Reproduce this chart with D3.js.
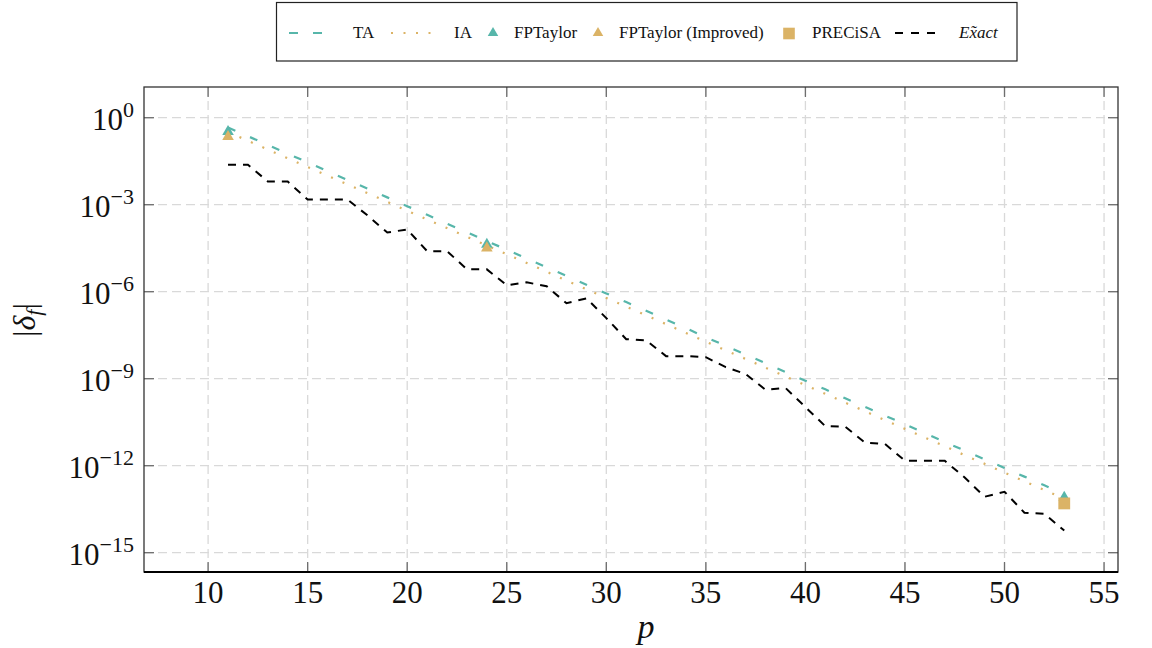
<!DOCTYPE html>
<meta charset="utf-8">
<style>
  body { margin: 0; background: #fff; }
  text { font-family: "Liberation Serif", "Times New Roman", serif; fill: #111; }
</style>
<svg width="1152" height="648"></svg>
<script src="https://d3js.org/d3.v7.min.js"></script>
<script>

  // precision p (x axis)
  var pValues = [11, 12, 13, 14, 15, 16, 17, 18, 19, 20, 21, 22, 23, 24, 25, 26, 27, 28, 29, 30, 31, 32,
                 33, 34, 35, 36, 37, 38, 39, 40, 41, 42, 43, 44, 45, 46, 47, 48, 49, 50, 51, 52, 53];

  // |delta_f|
  var taValues = [4.6e-1, 2.3e-1, 1.15e-1, 5.7e-2, 2.9e-2, 1.43e-2, 7.1e-3, 3.6e-3, 1.79e-3, 8.9e-4, 4.5e-4,
                  2.2e-4, 1.12e-4, 5.6e-5, 2.8e-5, 1.4e-5, 7.0e-6, 3.5e-6, 1.75e-6, 8.7e-7, 4.4e-7, 2.2e-7,
                  1.09e-7, 5.5e-8, 2.7e-8, 1.36e-8, 6.8e-9, 3.4e-9, 1.7e-9, 8.5e-10, 4.3e-10, 2.1e-10,
                  1.06e-10, 5.3e-11, 2.7e-11, 1.33e-11, 6.6e-12, 3.3e-12, 1.66e-12, 8.3e-13, 4.2e-13,
                  2.1e-13, 1.04e-13];

  var iaValues = [3.2e-1, 1.6e-1, 8.0e-2, 4.0e-2, 2.0e-2, 1.0e-2, 5.0e-3, 2.5e-3, 1.25e-3, 6.2e-4, 3.1e-4,
                  1.56e-4, 7.8e-5, 3.9e-5, 1.95e-5, 9.8e-6, 4.9e-6, 2.4e-6, 1.22e-6, 6.1e-7, 3.05e-7,
                  1.53e-7, 7.6e-8, 3.8e-8, 1.9e-8, 9.5e-9, 4.8e-9, 2.4e-9, 1.19e-9, 6.0e-10, 3.0e-10,
                  1.49e-10, 7.5e-11, 3.7e-11, 1.86e-11, 9.3e-12, 4.7e-12, 2.3e-12, 1.16e-12, 5.8e-13,
                  2.9e-13, 1.45e-13, 7.3e-14];

  var exactValues = [2.4e-2, 2.4e-2, 6.3e-3, 6.3e-3, 1.5e-3, 1.5e-3, 1.5e-3, 4.3e-4, 1.1e-4, 1.4e-4, 2.5e-5,
                     2.5e-5, 5.9e-6, 5.9e-6, 1.66e-6, 2.1e-6, 1.55e-6, 4.0e-7, 5.9e-7, 1.23e-7, 2.3e-8,
                     2.1e-8, 6.0e-9, 6.0e-9, 5.5e-9, 2.5e-9, 1.45e-9, 4.1e-10, 4.8e-10, 1.05e-10, 2.3e-11,
                     2.2e-11, 6.2e-12, 5.6e-12, 1.48e-12, 1.48e-12, 1.48e-12, 3.9e-13, 8.5e-14, 1.26e-13,
                     2.4e-14, 2.2e-14, 5.8e-15];

  var fptaylorP = [11, 24, 53],
      fptaylorV = [3.3e-1, 4.3e-5, 8.1e-14];
  var fptaylorImpP = [11, 24],
      fptaylorImpV = [2.2e-1, 3.2e-5];
  var precisaP = [53],
      precisaV = [5.0e-14];

  var xTicks = [10, 15, 20, 25, 30, 35, 40, 45, 50, 55];
  var yTickExps = [0, -3, -6, -9, -12, -15];

  var teal = "#57b6aa",
      gold = "#dbb366";

  var svg = d3.select("svg"),
      pLeft = 144, pRight = 1118, pTop = 87, pBottom = 572;

  var x = d3.scaleLinear().domain([6.78, 55.7]).range([pLeft, pRight]);
  var y = d3.scaleLog().domain([Math.pow(10, -15.666), Math.pow(10, 1.059)]).range([pBottom, pTop]);

  // grid
  var grid = svg.append("g").attr("stroke", "#d9d9d9").attr("stroke-width", 1.3).attr("stroke-dasharray", "9,5");
  grid.selectAll(".gx").data(xTicks).enter().append("line")
      .attr("x1", function(d) { return x(d); }).attr("x2", function(d) { return x(d); })
      .attr("y1", pTop).attr("y2", pBottom);
  grid.selectAll(".gy").data(yTickExps).enter().append("line")
      .attr("y1", function(d) { return y(Math.pow(10, d)); }).attr("y2", function(d) { return y(Math.pow(10, d)); })
      .attr("x1", pLeft).attr("x2", pRight);

  // inner ticks on all four sides
  var ticks = svg.append("g").attr("stroke", "#6e6e6e").attr("stroke-width", 1.3);
  xTicks.forEach(function(t) {
    ticks.append("line").attr("x1", x(t)).attr("x2", x(t)).attr("y1", pBottom).attr("y2", pBottom - 10);
    ticks.append("line").attr("x1", x(t)).attr("x2", x(t)).attr("y1", pTop).attr("y2", pTop + 10);
  });
  yTickExps.forEach(function(e) {
    var yy = y(Math.pow(10, e));
    ticks.append("line").attr("x1", pLeft).attr("x2", pLeft + 10).attr("y1", yy).attr("y2", yy);
    ticks.append("line").attr("x1", pRight).attr("x2", pRight - 10).attr("y1", yy).attr("y2", yy);
  });

  // frame
  svg.append("rect").attr("x", pLeft).attr("y", pTop).attr("width", pRight - pLeft).attr("height", pBottom - pTop)
      .attr("fill", "none").attr("stroke", "#333").attr("stroke-width", 1.3);
  svg.append("line").attr("x1", pLeft).attr("x2", pRight).attr("y1", pBottom).attr("y2", pBottom)
      .attr("stroke", "#000").attr("stroke-width", 1.8);

  // tick labels
  svg.append("g").selectAll("text").data(xTicks).enter().append("text")
      .attr("x", function(d) { return x(d); }).attr("y", 603)
      .attr("text-anchor", "middle").attr("font-size", 31)
      .text(function(d) { return d; });

  var yl = svg.append("g").selectAll("text").data(yTickExps).enter().append("text")
      .attr("x", 134).attr("y", function(d) { return y(Math.pow(10, d)) + 12; })
      .attr("text-anchor", "end").attr("font-size", 31);
  yl.append("tspan").text("10");
  yl.append("tspan").attr("font-size", 22).attr("dy", -13)
      .text(function(d) { return d === 0 ? "0" : "\u2212" + (-d); });

  // axis labels
  svg.append("text").attr("x", 646).attr("y", 638).attr("text-anchor", "middle")
      .attr("font-size", 34).attr("font-style", "italic").text("p");

  var ylab = svg.append("text").attr("transform", "translate(35,320) rotate(-90)")
      .attr("text-anchor", "middle").attr("font-size", 32);
  ylab.append("tspan").text("|");
  ylab.append("tspan").attr("font-style", "italic").text("\u03b4");
  ylab.append("tspan").attr("font-style", "italic").attr("font-size", 22).attr("dy", 6).text("f");
  ylab.append("tspan").attr("dy", -6).text("|");

  // series
  function lineOf(vals) {
    return d3.line()
        .x(function(d, i) { return x(pValues[i]); })
        .y(function(d) { return y(d); })(vals);
  }

  svg.append("path").attr("d", lineOf(taValues)).attr("fill", "none")
      .attr("stroke", teal).attr("stroke-width", 2.2).attr("stroke-dasharray", "8,16");
  svg.append("path").attr("d", lineOf(iaValues)).attr("fill", "none")
      .attr("stroke", gold).attr("stroke-width", 2.2).attr("stroke-dasharray", "2,10.5");
  svg.append("path").attr("d", lineOf(exactValues)).attr("fill", "none")
      .attr("stroke", "#000").attr("stroke-width", 2).attr("stroke-dasharray", "8,7");

  var tri = d3.symbol().type(d3.symbolTriangle).size(58),
      sq = d3.symbol().type(d3.symbolSquare).size(140);

  svg.append("g").selectAll("path").data(fptaylorP).enter().append("path")
      .attr("d", tri).attr("fill", teal)
      .attr("transform", function(d, i) { return "translate(" + x(d) + "," + y(fptaylorV[i]) + ")"; });
  svg.append("g").selectAll("path").data(fptaylorImpP).enter().append("path")
      .attr("d", tri).attr("fill", gold)
      .attr("transform", function(d, i) { return "translate(" + x(d) + "," + y(fptaylorImpV[i]) + ")"; });
  svg.append("g").selectAll("path").data(precisaP).enter().append("path")
      .attr("d", sq).attr("fill", gold)
      .attr("transform", function(d, i) { return "translate(" + x(d) + "," + y(precisaV[i]) + ")"; });

  // legend
  var lg = svg.append("g");
  lg.append("rect").attr("x", 276.5).attr("y", 2.5).attr("width", 740.5).attr("height", 58.5)
      .attr("fill", "#fff").attr("stroke", "#222").attr("stroke-width", 1.2);

  lg.append("line").attr("x1", 289).attr("x2", 325).attr("y1", 33).attr("y2", 33)
      .attr("stroke", teal).attr("stroke-width", 2.2).attr("stroke-dasharray", "9,15");
  lg.append("line").attr("x1", 391).attr("x2", 433).attr("y1", 33).attr("y2", 33)
      .attr("stroke", gold).attr("stroke-width", 2.2).attr("stroke-dasharray", "2,10.5");
  lg.append("path").attr("d", d3.symbol().type(d3.symbolTriangle).size(48))
      .attr("fill", teal).attr("transform", "translate(493,33)");
  lg.append("path").attr("d", d3.symbol().type(d3.symbolTriangle).size(48))
      .attr("fill", gold).attr("transform", "translate(598,33)");
  lg.append("path").attr("d", d3.symbol().type(d3.symbolSquare).size(135))
      .attr("fill", gold).attr("transform", "translate(789,33.5)");
  lg.append("line").attr("x1", 895).attr("x2", 936).attr("y1", 33).attr("y2", 33)
      .attr("stroke", "#000").attr("stroke-width", 2.2).attr("stroke-dasharray", "8,8");

  var legendLabels = [
    {x: 353, t: "TA"},
    {x: 454, t: "IA"},
    {x: 514, t: "FPTaylor"},
    {x: 619, t: "FPTaylor (Improved)"},
    {x: 812, t: "PRECiSA"},
    {x: 959, t: "Exact", it: true}
  ];
  lg.selectAll("text").data(legendLabels).enter().append("text")
      .attr("x", function(d) { return d.x; }).attr("y", 38)
      .attr("font-size", 17)
      .attr("font-style", function(d) { return d.it ? "italic" : null; })
      .text(function(d) { return d.t; });
  // tilde accent over the x of Exact
  lg.append("text").attr("x", 973).attr("y", 37).attr("text-anchor", "middle")
      .attr("font-size", 17).attr("font-style", "italic").text("\u02dc");

</script>
